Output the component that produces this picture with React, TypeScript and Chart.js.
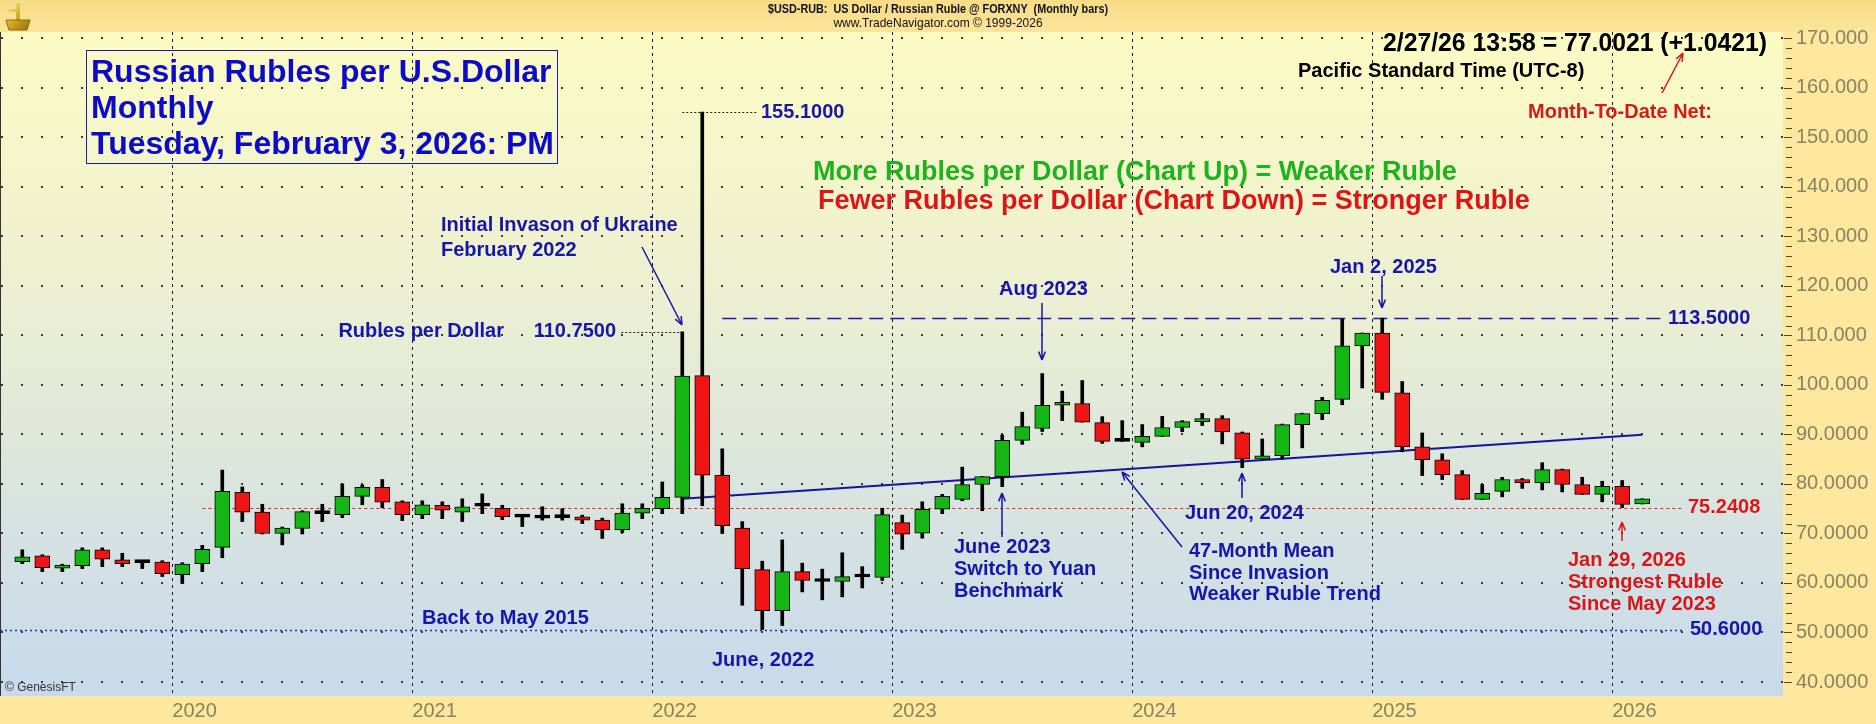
import React, { useEffect, useRef } from 'react';
import { Chart, registerables } from 'chart.js';

Chart.register(...registerables);

// ---------------- DATA ----------------
const months = [
  '2019-05', '2019-06', '2019-07', '2019-08', '2019-09', '2019-10', '2019-11', '2019-12',
  '2020-01', '2020-02', '2020-03', '2020-04', '2020-05', '2020-06', '2020-07', '2020-08', '2020-09', '2020-10', '2020-11', '2020-12',
  '2021-01', '2021-02', '2021-03', '2021-04', '2021-05', '2021-06', '2021-07', '2021-08', '2021-09', '2021-10', '2021-11', '2021-12',
  '2022-01', '2022-02', '2022-03', '2022-04', '2022-05', '2022-06', '2022-07', '2022-08', '2022-09', '2022-10', '2022-11', '2022-12',
  '2023-01', '2023-02', '2023-03', '2023-04', '2023-05', '2023-06', '2023-07', '2023-08', '2023-09', '2023-10', '2023-11', '2023-12',
  '2024-01', '2024-02', '2024-03', '2024-04', '2024-05', '2024-06', '2024-07', '2024-08', '2024-09', '2024-10', '2024-11', '2024-12',
  '2025-01', '2025-02', '2025-03', '2025-04', '2025-05', '2025-06', '2025-07', '2025-08', '2025-09', '2025-10', '2025-11', '2025-12',
  '2026-01', '2026-02',
];

const opens = [
  64.3, 65.5, 63.0, 63.5, 66.7, 64.7, 64.1, 64.2,
  61.7, 63.9, 67.2, 78.3, 74.3, 70.0, 71.0, 74.0, 73.8, 77.5, 79.3, 76.4,
  73.8, 75.7, 74.3, 75.5, 75.1, 73.3, 73.1, 73.2, 73.35, 72.7, 70.7, 74.1,
  75.0, 77.3, 101.9, 81.8, 71.1, 62.7, 54.4, 62.3, 60.3, 60.3, 61.2, 61.1,
  72.2, 70.05, 74.9, 76.9, 79.9, 81.5, 88.8, 91.2, 95.9, 96.25, 92.4, 88.6,
  88.4, 89.6, 91.4, 92.6, 93.2, 90.35, 85.0, 85.7, 92.0, 94.2, 97.1, 107.9,
  110.5, 98.4, 87.5, 84.9, 81.9, 76.9, 78.5, 80.9, 80.2, 82.9, 79.9, 77.9,
  79.5, 75.96,
];
const highs = [
  66.7, 65.7, 63.8, 67.1, 67.1, 66.0, 64.5, 64.5,
  64.1, 67.6, 82.8, 79.4, 75.9, 71.3, 74.6, 75.9, 80.0, 79.8, 80.9, 76.6,
  76.6, 76.4, 77.0, 78.0, 75.7, 73.7, 75.4, 75.0, 73.7, 73.1, 76.0, 76.0,
  80.4, 110.75, 155.1, 87.1, 72.4, 64.4, 68.7, 64.0, 62.8, 66.1, 63.3, 75.1,
  73.7, 76.4, 77.9, 83.4, 81.5, 89.9, 94.5, 102.3, 98.75, 100.9, 93.6, 92.8,
  92.0, 93.65, 92.8, 94.25, 93.8, 90.5, 89.1, 92.1, 94.3, 97.5, 113.3, 110.5,
  113.5, 100.7, 90.3, 86.1, 82.7, 79.9, 81.35, 81.1, 84.3, 83.0, 81.35, 80.55,
  80.7, 77.0,
];
const lows = [
  63.9, 62.3, 62.3, 62.9, 63.3, 63.3, 62.9, 61.3,
  59.9, 62.3, 65.1, 72.4, 69.9, 67.7, 69.9, 72.4, 73.2, 75.8, 75.2, 72.6,
  73.0, 73.0, 72.4, 74.0, 72.8, 71.4, 72.7, 72.7, 72.0, 69.0, 70.2, 73.0,
  74.0, 74.0, 75.6, 70.0, 55.5, 50.6, 51.4, 58.2, 56.6, 57.2, 59.0, 60.5,
  66.8, 69.05, 74.0, 76.6, 74.6, 79.45, 88.0, 90.6, 92.8, 92.5, 88.2, 88.6,
  87.5, 89.6, 90.55, 91.8, 88.1, 83.3, 85.0, 85.0, 87.3, 93.0, 96.0, 99.4,
  97.1, 86.5, 81.7, 80.9, 76.9, 76.9, 77.4, 79.1, 78.8, 78.4, 77.9, 76.4,
  75.2408, 75.96,
];
const closes = [
  65.3, 63.1, 63.6, 66.7, 64.8, 63.9, 64.1, 61.9,
  63.8, 66.8, 78.5, 74.3, 70.0, 71.1, 74.4, 74.0, 77.5, 79.3, 76.3, 73.8,
  75.8, 74.7, 75.4, 75.5, 73.4, 73.3, 73.1, 73.2, 72.7, 70.7, 74.1, 75.1,
  77.3, 101.8, 81.8, 71.6, 62.9, 54.4, 62.3, 60.5, 60.3, 61.3, 61.2, 73.8,
  69.85, 74.9, 77.5, 79.9, 81.5, 88.8, 91.6, 95.9, 96.5, 92.5, 88.6, 88.6,
  89.6, 91.4, 92.6, 93.2, 90.5, 85.0, 85.7, 92.0, 94.2, 96.9, 107.9, 110.5,
  98.5, 87.5, 84.9, 81.9, 76.9, 78.1, 80.9, 80.2, 82.9, 79.9, 77.9, 79.5,
  75.85, 77.0021,
];

// 47-month mean line (start / end)
const meanMonths = ['2022-02', '2026-02'];
const meanValues = [77.0, 89.95];

// Reference levels
const levelHigh2022 = 155.1;
const levelFeb2022 = 110.75;
const levelResistance = 113.5;
const levelJan2026 = 75.2408;
const levelJune2022 = 50.6;

const yTickValues = [40, 50, 60, 70, 80, 90, 100, 110, 120, 130, 140, 150, 160, 170];
const yearLabels = ['2020', '2021', '2022', '2023', '2024', '2025', '2026'];

// --------------- helpers ---------------
const monthIndex = (s: string) => {
  const [y, m] = s.split('-').map(Number);
  return (y - 2020) * 12 + (m - 1);
};
const yearTickValue = (label: string) => (Number(label) - 2020) * 12 - 0.5;

const FONT = '"Liberation Sans", Arial, sans-serif';
const BLUE = '#1616a8';
const RED = '#d81818';

function txt(ctx: CanvasRenderingContext2D, s: string, x: number, y: number, font: string, color: string, align: CanvasTextAlign = 'left', maxW?: number) {
  ctx.font = font;
  ctx.fillStyle = color;
  ctx.textAlign = align;
  ctx.textBaseline = 'middle';
  if (maxW) ctx.fillText(s, x, y, maxW);
  else ctx.fillText(s, x, y);
}

function arrow(ctx: CanvasRenderingContext2D, x1: number, y1: number, x2: number, y2: number, color: string, w = 1.5) {
  ctx.save();
  ctx.strokeStyle = color;
  ctx.lineWidth = w;
  ctx.setLineDash([]);
  ctx.beginPath();
  ctx.moveTo(x1, y1);
  ctx.lineTo(x2, y2);
  const a = Math.atan2(y2 - y1, x2 - x1);
  const L = 9;
  const sp = 0.38;
  ctx.moveTo(x2, y2);
  ctx.lineTo(x2 - L * Math.cos(a - sp), y2 - L * Math.sin(a - sp));
  ctx.moveTo(x2, y2);
  ctx.lineTo(x2 - L * Math.cos(a + sp), y2 - L * Math.sin(a + sp));
  ctx.stroke();
  ctx.restore();
}

function hline(ctx: CanvasRenderingContext2D, x1: number, x2: number, y: number, color: string, dash: number[], w = 1) {
  ctx.save();
  ctx.strokeStyle = color;
  ctx.lineWidth = w;
  ctx.setLineDash(dash);
  ctx.beginPath();
  ctx.moveTo(x1, Math.round(y) + 0.5);
  ctx.lineTo(x2, Math.round(y) + 0.5);
  ctx.stroke();
  ctx.restore();
}

const backgroundPlugin = {
  id: 'bgPlugin',
  beforeDraw(chart: any) {
    const { ctx, chartArea: ca, width, height } = chart;
    ctx.save();
    ctx.fillStyle = '#fee89d';
    ctx.fillRect(0, 0, width, height);
    const hg = ctx.createLinearGradient(0, 0, 0, ca.top);
    hg.addColorStop(0, '#f8dc86');
    hg.addColorStop(1, '#fbe49a');
    ctx.fillStyle = hg;
    ctx.fillRect(0, 0, width, ca.top);
    const g = ctx.createLinearGradient(0, ca.top, 0, ca.bottom);
    g.addColorStop(0, '#fcfbc4');
    g.addColorStop(0.4, '#ecefd2');
    g.addColorStop(1, '#c7d9ec');
    ctx.fillStyle = g;
    ctx.fillRect(ca.left, ca.top, ca.right - ca.left, ca.bottom - ca.top);
    ctx.fillStyle = '#333';
    ctx.fillRect(0, ca.top, 1, ca.bottom - ca.top);
    txt(ctx, '$USD-RUB:  US Dollar / Russian Ruble @ FORXNY  (Monthly bars)', 938, 10, `bold 12px ${FONT}`, '#111', 'center', 340);
    txt(ctx, 'www.TradeNavigator.com \u00A9 1999-2026', 938, 24, `12px ${FONT}`, '#111', 'center', 221);
    const lg = ctx.createLinearGradient(4, 4, 30, 32);
    lg.addColorStop(0, '#fff3a0');
    lg.addColorStop(0.5, '#d4a820');
    lg.addColorStop(1, '#8a6a10');
    ctx.fillStyle = lg;
    ctx.strokeStyle = '#8a6a10';
    ctx.lineWidth = 1;
    ctx.beginPath();
    ctx.moveTo(16, 3); ctx.lineTo(20, 3); ctx.lineTo(20, 20); ctx.lineTo(16, 20); ctx.closePath();
    ctx.fill();
    ctx.fillRect(8, 9, 12, 3);
    ctx.beginPath();
    ctx.moveTo(6, 20); ctx.lineTo(30, 20); ctx.lineTo(27, 30); ctx.lineTo(9, 30); ctx.closePath();
    ctx.fill(); ctx.stroke();
    ctx.restore();
  },
  beforeDatasetsDraw(chart: any) {
    const { ctx, scales, chartArea: ca } = chart;
    const x = scales.x, y = scales.y;
    const px = (m: number) => x.getPixelForValue(m);
    // dotted horizontal grid at each y tick, one dot per month column
    ctx.save();
    ctx.fillStyle = '#3a3a3a';
    const m0 = Math.ceil(x.min);
    yTickValues.forEach((v) => {
      const py = Math.round(y.getPixelForValue(v));
      if (py < ca.top || py > ca.bottom) return;
      for (let m = m0; m <= x.max; m++) {
        const xx = Math.round(px(m));
        ctx.fillRect(xx - 1, py - 1, 2, 2);
      }
    });
    ctx.restore();
    hline(ctx, 0, px(75.0), y.getPixelForValue(levelJune2022), '#2424b4', [2, 3], 1.3);
    hline(ctx, px(1.0), px(75.0), y.getPixelForValue(levelJan2026), '#d42424', [3, 3], 1);
    hline(ctx, px(27.0), px(74.05), y.getPixelForValue(levelResistance), '#1c1c9c', [14, 7], 1.5);
    hline(ctx, px(25.0), px(28.8), y.getPixelForValue(levelHigh2022), '#222', [2, 2], 1);
    hline(ctx, px(21.95), px(25.0), y.getPixelForValue(levelFeb2022), '#222', [2, 2], 1);
  },
  afterDraw(chart: any) {
    const { ctx, scales, chartArea: ca } = chart;
    const y = scales.y;
    ctx.save();
    ctx.strokeStyle = '#4b4838';
    ctx.lineWidth = 1;
    ctx.setLineDash([]);
    ctx.beginPath();
    for (let v = 40; v <= 170; v += 2) {
      const py = Math.round(y.getPixelForValue(v)) + 0.5;
      const major = v % 10 === 0;
      ctx.moveTo(ca.right + (major ? 1 : 3), py);
      ctx.lineTo(ca.right + 9, py);
    }
    ctx.stroke();

    const B20 = `bold 20px ${FONT}`;
    ctx.strokeStyle = '#1a1ab4';
    ctx.lineWidth = 1;
    ctx.strokeRect(86.5, 50.5, 471, 113);
    const TF = `bold 32px ${FONT}`;
    txt(ctx, 'Russian Rubles per U.S.Dollar', 91, 73, TF, '#0c0cc8', 'left', 463);
    txt(ctx, 'Monthly', 91, 109, TF, '#0c0cc8');
    txt(ctx, 'Tuesday, February 3, 2026: PM', 91, 145, TF, '#0c0cc8', 'left', 463);

    txt(ctx, '2/27/26 13:58 = 77.0021 (+1.0421)', 1767, 44, `bold 25px ${FONT}`, '#000', 'right', 384);
    txt(ctx, 'Pacific Standard Time (UTC-8)', 1298, 71, B20, '#000', 'left', 288);
    txt(ctx, 'Month-To-Date Net:', 1528, 112, B20, '#d41a1a');
    arrow(ctx, 1662, 93, 1683, 53, '#d41a1a', 1.5);

    txt(ctx, '155.1000', 761, y.getPixelForValue(levelHigh2022), B20, BLUE);

    txt(ctx, 'More Rubles per Dollar (Chart Up) = Weaker Ruble', 813, 173, `bold 27px ${FONT}`, '#1fb21f');
    txt(ctx, 'Fewer Rubles per Dollar (Chart Down) = Stronger Ruble', 818, 202, `bold 27px ${FONT}`, '#dc1616');

    txt(ctx, 'Initial Invason of Ukraine', 441, 225, B20, BLUE);
    txt(ctx, 'February 2022', 441, 250, B20, BLUE);
    arrow(ctx, 642, 247, 682, 325, BLUE, 1.5);
    const y11075 = y.getPixelForValue(levelFeb2022);
    txt(ctx, 'Rubles per Dollar', 504, y11075, B20, BLUE, 'right');
    txt(ctx, '110.7500', 616, y11075, B20, BLUE, 'right');

    txt(ctx, 'Aug 2023', 999, 289, B20, BLUE);
    arrow(ctx, 1042, 303, 1042, 360, BLUE, 1.5);

    txt(ctx, 'Jan 2, 2025', 1330, 267, B20, BLUE);
    arrow(ctx, 1382, 276, 1382, 308, BLUE, 1.5);
    txt(ctx, '113.5000', 1668, y.getPixelForValue(levelResistance), B20, BLUE);

    txt(ctx, 'June 2023', 954, 547, B20, BLUE);
    txt(ctx, 'Switch to Yuan', 954, 569, B20, BLUE);
    txt(ctx, 'Benchmark', 954, 591, B20, BLUE);
    arrow(ctx, 1002, 537, 1002, 493, BLUE, 1.5);

    txt(ctx, '47-Month Mean', 1189, 551, B20, BLUE);
    txt(ctx, 'Since Invasion', 1189, 573, B20, BLUE);
    txt(ctx, 'Weaker Ruble Trend', 1189, 594, B20, BLUE);
    arrow(ctx, 1182, 547, 1122, 472, BLUE, 1.5);

    txt(ctx, 'Jun 20, 2024', 1185, 513, B20, BLUE);
    arrow(ctx, 1242, 498, 1242, 473, BLUE, 1.5);

    txt(ctx, 'June, 2022', 712, 660, B20, BLUE);
    txt(ctx, 'Back to May 2015', 422, 618, B20, BLUE);
    txt(ctx, '50.6000', 1690, y.getPixelForValue(levelJune2022), B20, BLUE);

    txt(ctx, '75.2408', 1688, y.getPixelForValue(levelJan2026), B20, RED);
    txt(ctx, 'Jan 29, 2026', 1568, 560, B20, RED);
    txt(ctx, 'Strongest Ruble', 1568, 582, B20, RED);
    txt(ctx, 'Since May 2023', 1568, 604, B20, RED);
    arrow(ctx, 1622, 541, 1622, 522, RED, 1.5);

    txt(ctx, '\u00A9 GenesisFT', 5, 688, `12px ${FONT}`, '#333');
    ctx.restore();
  },
};

export default function App() {
  const ref = useRef<HTMLCanvasElement | null>(null);

  useEffect(() => {
    if (!ref.current) return;
    document.body.style.margin = '0';
    const xs = months.map(monthIndex);
    const wickData = xs.map((x, i) => ({ x, y: [lows[i], highs[i]] }));
    const bodyData = xs.map((x, i) => ({ x, y: [opens[i], closes[i]] }));
    const bodyColors = xs.map((_, i) =>
      closes[i] > opens[i] ? '#13b613' : closes[i] < opens[i] ? '#f01414' : '#000000'
    );
    const meanData = meanMonths.map((m, i) => ({ x: monthIndex(m), y: meanValues[i] }));
    const yearTicks = yearLabels.map(yearTickValue);

    const chart = new Chart(ref.current, {
      type: 'bar',
      data: {
        datasets: [
          {
            type: 'line',
            data: meanData as any,
            borderColor: '#14149c',
            borderWidth: 2,
            pointRadius: 0,
            order: 3,
          } as any,
          {
            data: wickData as any,
            backgroundColor: '#000',
            barThickness: 3,
            grouped: false,
            order: 2,
          } as any,
          {
            data: bodyData as any,
            backgroundColor: bodyColors,
            borderColor: '#000',
            borderWidth: 1,
            borderSkipped: false,
            barThickness: 15,
            minBarLength: 3,
            grouped: false,
            order: 1,
          } as any,
        ],
      },
      options: {
        responsive: false,
        animation: false,
        devicePixelRatio: 1,
        layout: { padding: { top: 32, left: 0, right: 0, bottom: 0 } },
        plugins: { legend: { display: false }, tooltip: { enabled: false } },
        scales: {
          x: {
            type: 'linear',
            min: -9.115,
            max: 80.04,
            offset: false,
            grid: { color: '#1a1a1a', lineWidth: 1, drawTicks: false, offset: false },
            border: { display: false, dash: [3, 4] },
            afterBuildTicks: (scale: any) => {
              scale.ticks = yearTicks.map((v) => ({ value: v }));
            },
            afterFit: (scale: any) => {
              scale.height = 28;
            },
            ticks: {
              autoSkip: false,
              maxRotation: 0,
              minRotation: 0,
              align: 'start',
              padding: 3,
              color: '#8a8262',
              font: { family: FONT, size: 20 },
              callback: (v: any) => {
                const i = yearTicks.indexOf(Number(v));
                return i >= 0 ? yearLabels[i] : '';
              },
            },
          },
          y: {
            type: 'linear',
            position: 'right',
            min: 37.17,
            max: 171.3,
            grid: { display: false, drawTicks: false },
            border: { display: false },
            afterBuildTicks: (scale: any) => {
              scale.ticks = yTickValues.map((v) => ({ value: v }));
            },
            afterFit: (scale: any) => {
              scale.width = 93;
            },
            ticks: {
              padding: 13,
              color: '#8a8262',
              font: { family: FONT, size: 20 },
              callback: (v: any) => {
                const n = Number(v);
                return n >= 100 ? n.toFixed(3) : n.toFixed(4);
              },
            },
          },
        },
      } as any,
      plugins: [backgroundPlugin],
    });
    return () => chart.destroy();
  }, []);

  return (
    <div style={{ position: 'fixed', left: 0, top: 0, width: 1876, height: 724 }}>
      <canvas ref={ref} width={1876} height={724} style={{ display: 'block' }} />
    </div>
  );
}
